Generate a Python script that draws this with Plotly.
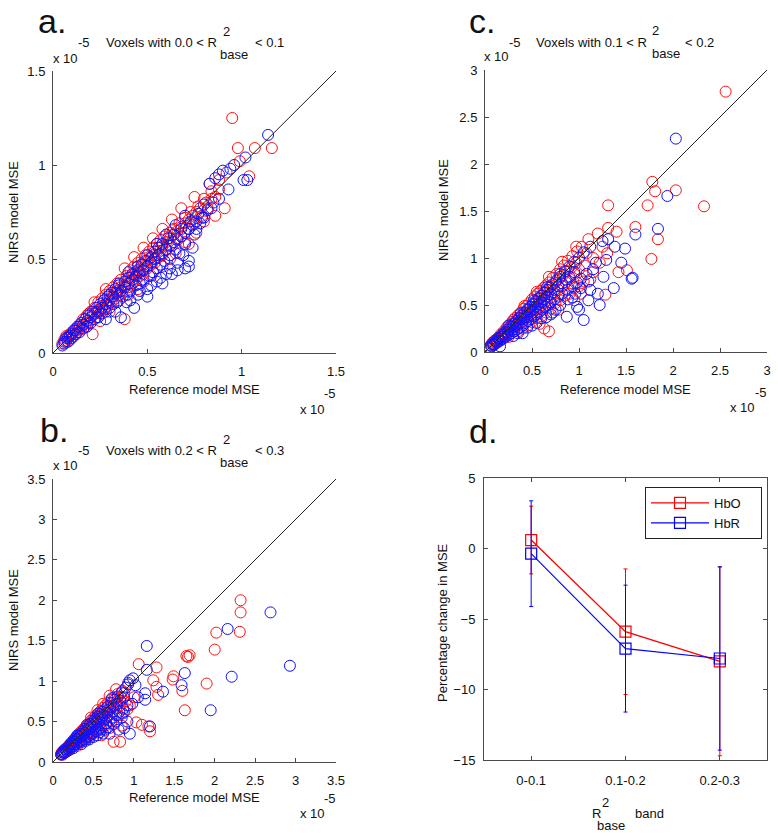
import plotly.graph_objects as go

W, H = 778, 837

# ---------------- data (units of 1e-5), (reference MSE, NIRS MSE) ----------------
# Panel a: 0.0 < R2 < 0.1
a_red = [(0.05,0.05),(0.06,0.07),(0.07,0.06),(0.08,0.09),(0.09,0.07),(0.10,0.11),(0.11,0.09),(0.12,0.13),(0.13,0.11),(0.14,0.15),
         (0.15,0.13),(0.16,0.18),(0.17,0.14),(0.18,0.20),(0.19,0.16),(0.20,0.22),(0.21,0.10),(0.22,0.24),(0.23,0.19),(0.24,0.27),
         (0.25,0.21),(0.26,0.29),(0.27,0.23),(0.28,0.31),(0.29,0.25),(0.30,0.33),(0.31,0.27),(0.32,0.35),(0.33,0.29),(0.34,0.37),
         (0.35,0.31),(0.36,0.39),(0.37,0.33),(0.38,0.18),(0.39,0.41),(0.40,0.35),(0.41,0.44),(0.42,0.37),(0.43,0.46),(0.44,0.39),
         (0.45,0.48),(0.46,0.41),(0.47,0.50),(0.48,0.42),(0.49,0.52),(0.50,0.45),(0.51,0.54),(0.52,0.47),(0.53,0.56),(0.54,0.48),
         (0.55,0.58),(0.56,0.51),(0.57,0.60),(0.58,0.52),(0.59,0.62),(0.60,0.55),(0.62,0.64),(0.63,0.57),(0.64,0.66),(0.66,0.60),
         (0.67,0.69),(0.68,0.62),(0.70,0.72),(0.72,0.66),(0.73,0.75),(0.75,0.69),(0.77,0.78),(0.79,0.73),(0.80,0.82),(0.82,0.77),
         (0.84,0.86),(0.86,0.83),(0.88,0.92),(0.88,0.87),(0.86,0.73),(0.91,0.77),(0.95,1.25),(0.98,1.09),(1.07,1.09),(1.16,1.09),
         (0.99,1.02),(1.04,0.94),(0.30,0.22),(0.45,0.34),(0.62,0.50),(0.70,0.59),(0.25,0.17),(0.76,0.64),(0.92,0.96),(0.83,0.90),
         (0.07,0.09),(0.09,0.10),(0.12,0.10),(0.14,0.13),(0.16,0.15),(0.18,0.16),(0.19,0.21),(0.21,0.20),(0.23,0.22),(0.24,0.23),
         (0.26,0.25),(0.28,0.26),(0.29,0.28),(0.31,0.30),(0.33,0.32),(0.34,0.33),(0.36,0.35),(0.38,0.36),(0.39,0.38),(0.41,0.40),
         (0.43,0.42),(0.44,0.43),(0.46,0.45),(0.48,0.47),(0.50,0.49),(0.51,0.50),(0.53,0.52),(0.55,0.54),(0.57,0.56),(0.58,0.57),
         (0.60,0.59),(0.62,0.61),(0.64,0.63),(0.66,0.65),(0.68,0.67),(0.70,0.69),(0.72,0.71),(0.74,0.73),(0.76,0.75),(0.78,0.77),
         (0.81,0.80),(0.84,0.82),(0.35,0.28),(0.40,0.31),(0.48,0.38),(0.52,0.41),(0.58,0.46),(0.65,0.53),(0.72,0.58),(0.80,0.70),
         (0.28,0.34),(0.38,0.45),(0.48,0.56),(0.58,0.66),(0.68,0.77),(0.22,0.27),(0.43,0.51),(0.53,0.61),(0.63,0.71),(0.75,0.83)]
a_blue = [(0.05,0.04),(0.06,0.06),(0.07,0.08),(0.08,0.06),(0.09,0.09),(0.10,0.08),(0.11,0.12),(0.12,0.10),(0.13,0.14),(0.14,0.11),
          (0.15,0.16),(0.16,0.13),(0.17,0.18),(0.18,0.14),(0.19,0.20),(0.20,0.16),(0.21,0.22),(0.22,0.18),(0.23,0.24),(0.24,0.19),
          (0.25,0.26),(0.26,0.21),(0.27,0.28),(0.28,0.22),(0.29,0.30),(0.30,0.24),(0.31,0.32),(0.32,0.26),(0.33,0.34),(0.34,0.27),
          (0.35,0.36),(0.36,0.19),(0.37,0.30),(0.38,0.38),(0.39,0.31),(0.40,0.40),(0.41,0.33),(0.42,0.42),(0.43,0.24),(0.44,0.36),
          (0.45,0.44),(0.46,0.37),(0.47,0.47),(0.48,0.39),(0.49,0.49),(0.50,0.30),(0.51,0.41),(0.52,0.51),(0.53,0.43),(0.54,0.54),
          (0.55,0.45),(0.56,0.56),(0.57,0.47),(0.58,0.58),(0.59,0.49),(0.60,0.42),(0.61,0.61),(0.62,0.52),(0.64,0.63),(0.65,0.55),
          (0.66,0.48),(0.68,0.66),(0.70,0.58),(0.72,0.46),(0.72,0.49),(0.73,0.70),(0.75,0.63),(0.77,0.74),(0.80,0.79),(0.83,0.90),
          (0.86,0.93),(0.88,0.95),(0.90,0.97),(0.94,0.98),(0.96,1.00),(1.02,1.04),(1.14,1.16),(1.01,0.92),(1.03,0.92),(0.93,0.87),
          (0.78,0.69),(0.67,0.53),(0.55,0.38),(0.46,0.33),(0.28,0.18),(0.62,0.45),(0.85,0.80),
          (0.06,0.05),(0.08,0.08),(0.10,0.10),(0.12,0.12),(0.14,0.14),(0.16,0.15),(0.18,0.17),(0.20,0.19),(0.22,0.21),(0.24,0.22),
          (0.26,0.24),(0.28,0.26),(0.30,0.28),(0.32,0.30),(0.34,0.32),(0.36,0.33),(0.38,0.35),(0.40,0.37),(0.42,0.39),(0.44,0.41),
          (0.46,0.43),(0.48,0.44),(0.50,0.46),(0.52,0.48),(0.54,0.50),(0.56,0.52),(0.58,0.53),(0.60,0.55),(0.62,0.57),(0.64,0.59),
          (0.66,0.61),(0.68,0.62),(0.70,0.64),(0.72,0.66),(0.74,0.68),(0.76,0.70),(0.79,0.72),(0.82,0.76),(0.33,0.22),(0.39,0.27),
          (0.45,0.31),(0.52,0.36),(0.57,0.40),(0.63,0.42),(0.69,0.52),(0.74,0.56),(0.70,0.45),(0.66,0.44),(0.58,0.37),(0.50,0.34),
          (0.41,0.28),(0.30,0.31),(0.40,0.43),(0.50,0.52),(0.60,0.63),(0.70,0.73),(0.35,0.37),(0.45,0.46),(0.55,0.58),(0.65,0.68),
          (0.76,0.66),(0.80,0.72),(0.88,0.82),(0.84,0.77)]

# Panel c: 0.1 < R2 < 0.2
c_red = [(0.05,0.05),(0.07,0.08),(0.09,0.07),(0.10,0.12),(0.12,0.10),(0.14,0.15),(0.15,0.12),(0.17,0.19),(0.18,0.14),(0.20,0.22),
         (0.21,0.17),(0.23,0.26),(0.24,0.19),(0.26,0.29),(0.27,0.22),(0.29,0.32),(0.30,0.24),(0.32,0.36),(0.33,0.27),(0.35,0.39),
         (0.36,0.30),(0.38,0.42),(0.39,0.32),(0.41,0.46),(0.42,0.35),(0.44,0.49),(0.45,0.37),(0.47,0.52),(0.48,0.40),(0.50,0.56),
         (0.51,0.42),(0.53,0.59),(0.54,0.45),(0.56,0.62),(0.57,0.47),(0.59,0.65),(0.60,0.50),(0.62,0.68),(0.63,0.52),(0.65,0.71),
         (0.66,0.55),(0.68,0.74),(0.68,0.22),(0.70,0.58),(0.72,0.79),(0.74,0.62),(0.76,0.83),(0.78,0.66),(0.80,0.88),(0.82,0.70),
         (0.84,0.92),(0.86,0.74),(0.88,0.97),(0.90,0.78),(0.93,1.02),(0.95,0.83),(0.98,1.07),(1.00,0.88),(1.03,1.12),(1.06,0.92),
         (1.12,0.77),(1.10,1.20),(1.20,1.26),(1.25,1.12),(1.28,0.61),(1.31,1.32),(1.31,1.56),(1.40,1.28),(1.42,0.85),(1.51,0.87),
         (1.60,1.33),(1.73,1.56),(1.77,0.99),(1.78,1.81),(1.81,1.71),(1.84,1.20),(2.03,1.72),(2.33,1.55),(2.56,2.77),(0.35,0.22),
         (0.45,0.28),(0.55,0.36),(0.75,0.52),(0.85,0.60),(0.95,0.68),(0.65,0.42),(0.25,0.16),(1.15,1.00),(1.00,0.70),
         (0.08,0.10),(0.11,0.10),(0.13,0.13),(0.16,0.16),(0.19,0.18),(0.22,0.21),(0.25,0.24),(0.28,0.27),(0.31,0.30),(0.34,0.33),
         (0.37,0.36),(0.40,0.39),(0.43,0.42),(0.46,0.45),(0.49,0.48),(0.52,0.51),(0.55,0.54),(0.58,0.57),(0.61,0.60),(0.64,0.63),
         (0.67,0.66),(0.71,0.70),(0.75,0.74),(0.79,0.78),(0.83,0.82),(0.87,0.86),(0.92,0.90),(0.97,0.95),(0.40,0.25),(0.50,0.32),
         (0.60,0.38),(0.70,0.46),(0.80,0.55),(0.90,0.62),(1.05,0.75),(0.58,0.30),(0.78,0.45),(0.95,0.55),(1.15,0.85),(1.22,0.95),
         (0.30,0.34),(0.42,0.49),(0.55,0.64),(0.68,0.80),(0.82,0.96),(0.97,1.12),(1.08,1.05),(0.63,0.25),(1.02,0.62),(1.30,1.05)]
c_blue = [(0.05,0.04),(0.07,0.06),(0.08,0.09),(0.10,0.08),(0.11,0.12),(0.13,0.10),(0.14,0.15),(0.16,0.12),(0.16,0.06),(0.18,0.18),
          (0.19,0.14),(0.21,0.21),(0.22,0.16),(0.24,0.24),(0.25,0.18),(0.27,0.27),(0.28,0.20),(0.30,0.30),(0.31,0.22),(0.33,0.33),
          (0.34,0.24),(0.36,0.36),(0.37,0.26),(0.39,0.39),(0.40,0.28),(0.42,0.42),(0.43,0.31),(0.45,0.45),(0.46,0.33),(0.48,0.48),
          (0.49,0.35),(0.51,0.51),(0.52,0.38),(0.54,0.54),(0.55,0.40),(0.57,0.57),(0.58,0.43),(0.60,0.60),(0.61,0.45),(0.63,0.63),
          (0.64,0.48),(0.66,0.66),(0.67,0.50),(0.69,0.69),(0.70,0.53),(0.72,0.72),(0.74,0.56),(0.76,0.76),(0.78,0.59),(0.80,0.80),
          (0.82,0.62),(0.85,0.86),(0.87,0.375),(0.88,0.66),(0.90,0.91),(0.93,0.70),(0.95,0.96),(0.98,0.48),(0.98,0.74),(1.00,1.00),
          (1.02,0.78),(1.05,0.34),(1.05,1.06),(1.08,0.83),(1.12,0.66),(1.12,1.12),(1.18,0.95),(1.22,0.50),(1.25,1.18),(1.29,0.98),
          (1.31,1.20),(1.37,0.68),(1.38,1.12),(1.49,1.10),(1.56,0.78),(1.57,0.79),(1.60,1.25),(1.84,1.31),(1.94,1.66),(2.03,2.27),
          (0.40,0.20),(0.60,0.36),(0.75,0.45),(0.50,0.28),(0.70,0.40),(0.30,0.17),
          (0.06,0.07),(0.09,0.08),(0.12,0.11),(0.15,0.14),(0.18,0.16),(0.21,0.19),(0.24,0.21),(0.27,0.24),(0.30,0.27),(0.33,0.29),
          (0.36,0.32),(0.39,0.35),(0.42,0.37),(0.45,0.40),(0.48,0.43),(0.51,0.45),(0.54,0.48),(0.57,0.51),(0.60,0.53),(0.63,0.56),
          (0.66,0.59),(0.70,0.62),(0.74,0.66),(0.78,0.70),(0.82,0.73),(0.86,0.77),(0.90,0.80),(0.95,0.85),(0.35,0.20),(0.45,0.26),
          (0.55,0.31),(0.65,0.37),(0.72,0.42),(0.80,0.50),(0.88,0.56),(0.96,0.62),(1.02,0.68),(1.10,0.75),(1.15,0.88),(0.25,0.28),
          (0.38,0.41),(0.52,0.55),(0.66,0.69),(0.80,0.83),(0.93,0.58),(1.00,0.45),(1.10,0.55),(1.20,0.62),(1.26,0.80),(1.45,0.95)]

# Panel b: 0.2 < R2 < 0.3
b_red = [(0.10,0.10),(0.12,0.09),(0.13,0.14),(0.15,0.12),(0.17,0.17),(0.18,0.14),(0.20,0.21),(0.21,0.17),(0.23,0.24),(0.24,0.19),
         (0.26,0.28),(0.27,0.22),(0.29,0.31),(0.30,0.25),(0.32,0.34),(0.33,0.27),(0.35,0.38),(0.36,0.30),(0.38,0.41),(0.39,0.32),
         (0.41,0.44),(0.42,0.35),(0.44,0.47),(0.45,0.37),(0.47,0.51),(0.48,0.40),(0.50,0.54),(0.51,0.42),(0.53,0.57),(0.54,0.44),
         (0.56,0.60),(0.57,0.46),(0.59,0.63),(0.60,0.49),(0.62,0.67),(0.63,0.52),(0.65,0.70),(0.66,0.54),(0.68,0.73),(0.70,0.42),
         (0.70,0.58),(0.72,0.77),(0.74,0.62),(0.75,0.25),(0.76,0.80),(0.78,0.66),(0.80,0.84),(0.83,0.25),(0.83,0.70),(0.86,0.88),
         (0.90,0.75),(0.93,0.98),(1.03,0.49),(1.06,1.21),(1.10,0.46),(1.18,0.44),(1.20,0.38),(1.24,1.01),(1.28,1.17),(1.28,0.93),
         (1.30,0.83),(1.48,1.02),(1.49,1.06),(1.60,0.88),(1.63,0.64),(1.65,1.31),(1.67,1.30),(1.69,1.32),(1.90,0.97),(2.00,1.39),
         (2.02,1.60),(2.31,1.61),(2.32,1.85),(2.32,2.00),(0.30,0.20),(0.40,0.28),(0.50,0.36),(0.60,0.40),(0.20,0.15),(0.45,0.31),
         (0.11,0.12),(0.14,0.13),(0.16,0.16),(0.19,0.18),(0.22,0.21),(0.25,0.24),(0.28,0.27),(0.31,0.29),(0.34,0.32),(0.37,0.35),
         (0.40,0.38),(0.43,0.41),(0.46,0.44),(0.49,0.47),(0.52,0.50),(0.55,0.53),(0.58,0.56),(0.61,0.58),(0.64,0.61),(0.67,0.64),
         (0.71,0.68),(0.75,0.71),(0.79,0.75),(0.84,0.80),(0.88,0.85),(0.35,0.24),(0.45,0.30),(0.55,0.38),(0.65,0.45),(0.72,0.50),
         (0.80,0.58),(0.88,0.62),(0.95,0.70),(0.60,0.33),(0.85,0.45),(0.78,0.90),(0.70,0.82),(0.62,0.72),(0.55,0.64),(0.47,0.55),
         (0.92,0.65),(1.00,0.80)]
b_blue = [(0.10,0.09),(0.12,0.12),(0.14,0.11),(0.15,0.16),(0.17,0.13),(0.19,0.19),(0.20,0.15),(0.22,0.23),(0.23,0.18),(0.25,0.26),
          (0.26,0.20),(0.28,0.29),(0.29,0.22),(0.31,0.32),(0.32,0.24),(0.34,0.35),(0.35,0.26),(0.37,0.38),(0.38,0.28),(0.40,0.41),
          (0.41,0.30),(0.43,0.44),(0.44,0.32),(0.46,0.47),(0.47,0.34),(0.49,0.50),(0.50,0.36),(0.52,0.53),(0.53,0.38),(0.55,0.56),
          (0.56,0.40),(0.58,0.59),(0.59,0.42),(0.61,0.62),(0.62,0.35),(0.62,0.45),(0.64,0.65),(0.66,0.48),(0.68,0.69),(0.70,0.51),
          (0.72,0.73),(0.74,0.55),(0.76,0.77),(0.78,0.58),(0.80,0.81),(0.81,0.40),(0.82,0.62),(0.85,0.86),(0.87,0.66),(0.90,0.92),
          (0.92,0.70),(0.95,0.35),(0.95,1.01),(0.99,1.035),(1.14,0.85),(1.14,0.77),(1.16,1.435),(1.16,1.14),(1.20,0.44),(1.36,0.87),
          (1.59,0.95),(1.63,1.10),(1.95,0.64),(2.16,1.645),(2.21,1.055),(2.69,1.85),(2.93,1.19),(0.35,0.22),(0.45,0.28),(0.55,0.33),
          (0.65,0.40),(0.75,0.47),(0.85,0.55),(0.25,0.17),
          (0.11,0.10),(0.13,0.13),(0.16,0.14),(0.18,0.17),(0.21,0.20),(0.24,0.22),(0.27,0.25),(0.30,0.28),(0.33,0.31),(0.36,0.33),
          (0.39,0.36),(0.42,0.39),(0.45,0.42),(0.48,0.44),(0.51,0.47),(0.54,0.50),(0.57,0.53),(0.60,0.55),(0.63,0.58),(0.67,0.61),
          (0.71,0.65),(0.75,0.69),(0.79,0.72),(0.83,0.76),(0.88,0.80),(0.40,0.26),(0.50,0.31),(0.58,0.37),(0.68,0.43),(0.78,0.50),
          (0.86,0.60),(0.92,0.50),(0.98,0.72),(1.05,0.80),(0.70,0.35),(0.88,0.42),(0.30,0.33),(0.42,0.46),(0.56,0.60),(0.73,0.79),
          (0.93,0.96),(1.02,0.95)]

# Panel d: percentage change in MSE per R2 band
bands = ["0-0.1", "0.1-0.2", "0.2-0.3"]
hbo_mean = [0.6, -5.9, -8.0]
hbo_err = [2.4, 4.45, 6.7]
hbr_mean = [-0.37, -7.1, -7.8]
hbr_err = [3.75, 4.5, 6.5]

# ---------------- layout helpers ----------------
def px(x):
    return x / W

def py(y):
    return 1 - y / H

FONT = "Liberation Sans, Arial, Helvetica, sans-serif"
AX = "#4a4a4a"
RED = "#ff1010"
BLUE = "#1010ff"

fig = go.Figure()

panels = [
    ("x", "y", 1.5, (53, 336), (71, 353), a_red, a_blue),
    ("x2", "y2", 3.0, (485, 767), (70, 352), c_red, c_blue),
    ("x3", "y3", 3.5, (53, 336), (479, 762), b_red, b_blue),
]

layout_axes = {}
for xa, ya, rmax, (x0, x1), (y0, y1), red, blue in panels:
    for pts, col in ((red, RED), (blue, BLUE)):
        fig.add_trace(go.Scatter(x=[p[0] for p in pts], y=[p[1] for p in pts], xaxis=xa, yaxis=ya,
                                 mode="markers", showlegend=False,
                                 marker=dict(symbol="circle-open", size=11, color=col,
                                             line=dict(width=1, color=col))))
    fig.add_trace(go.Scatter(x=[0, rmax], y=[0, rmax], xaxis=xa, yaxis=ya, mode="lines", showlegend=False,
                             line=dict(color="#222", width=1)))
    kx = "xaxis" if xa == "x" else "xaxis" + xa[1:]
    ky = "yaxis" if ya == "y" else "yaxis" + ya[1:]
    common = dict(showline=True, linecolor=AX, linewidth=1, ticks="inside", ticklen=4,
                  tickcolor=AX, showgrid=False, zeroline=False, dtick=0.5, tick0=0, automargin=False,
                  tickfont=dict(size=13, color="#111", family=FONT))
    layout_axes[kx] = dict(common, range=[0, rmax], domain=[px(x0), px(x1)], anchor=ya,
                           ticklabelstandoff=6)
    layout_axes[ky] = dict(common, range=[0, rmax], domain=[py(y1), py(y0)], anchor=xa,
                           ticklabelstandoff=4)

# panel d
fig.add_trace(go.Scatter(x=[0, 1, 2], y=hbo_mean, xaxis="x4", yaxis="y4", mode="lines+markers",
                         name="HbO\u00a0\u00a0\u00a0\u00a0",
                         line=dict(color="#ff0000", width=1.3),
                         marker=dict(symbol="square-open", size=11, color="#ff0000", line=dict(width=1.2)),
                         error_y=dict(type="data", array=hbo_err, visible=True, color="#ff0000",
                                      thickness=1, width=2)))
fig.add_trace(go.Scatter(x=[0, 1, 2], y=hbr_mean, xaxis="x4", yaxis="y4", mode="lines+markers",
                         name="HbR\u00a0\u00a0\u00a0\u00a0",
                         line=dict(color="#0000ff", width=1.1),
                         marker=dict(symbol="square-open", size=11, color="#0000ff", line=dict(width=1.2)),
                         error_y=dict(type="data", array=hbr_err, visible=True, color="#0000ff",
                                      thickness=1, width=2)))
layout_axes["xaxis4"] = dict(domain=[px(484), px(767)], anchor="y4", range=[-0.5, 2.5],
                             tickvals=[0, 1, 2], ticktext=bands, showline=True, mirror="ticks",
                             linecolor=AX, linewidth=1, ticks="inside", ticklen=4, tickcolor=AX,
                             showgrid=False, zeroline=False, ticklabelstandoff=8, automargin=False,
                             tickfont=dict(size=13, color="#111", family=FONT))
layout_axes["yaxis4"] = dict(domain=[py(760), py(478)], anchor="x4", range=[-15, 5], dtick=5,
                             showline=True, mirror="ticks", linecolor=AX, linewidth=1, ticks="inside",
                             ticklen=4, tickcolor=AX, showgrid=False, zeroline=False, ticklabelstandoff=5,
                             automargin=False, tickfont=dict(size=13, color="#111", family=FONT))

# ---------------- text ----------------
ann = []

def T(text, x, y, size=13, xanchor="center", angle=0, family=FONT, yanchor="middle"):
    ann.append(dict(text=text, x=px(x), y=py(y), xref="paper", yref="paper", showarrow=False,
                    xanchor=xanchor, yanchor=yanchor, textangle=angle,
                    font=dict(size=size, color="#111", family=family)))

T("a.", 52, 0, 34, yanchor="top")
T("c.", 482, 0, 34, yanchor="top")
T("b.", 54, 430, 34)
T("d.", 483, 431, 34)

# titles with stacked super/subscripts
for (ly, lo, hi, x_r, x_2, x_b, x_l, xx, xm) in [
    (43, "0.0", "0.1", 219, 226, 234, 253, 65, 84),
    (42, "0.1", "0.2", 649, 655, 666, 683, 496, 515),
    (450, "0.2", "0.3", 219, 226, 234, 253, 65, 84),
]:
    T("Voxels with %s < R" % lo, x_r, ly, xanchor="right")
    T("2", x_2, ly - 11)
    T("base", x_b, ly + 12)
    T("< %s" % hi, x_l, ly, xanchor="left")
    T("x 10", xx, ly + 15)
    T("-5", xm, ly)

# axis titles
T("Reference model MSE", 195, 390)
T("Reference model MSE", 625, 390)
T("Reference model MSE", 195, 797)
T("NIRS model MSE", 13, 212, angle=-90)
T("NIRS model MSE", 444, 210, angle=-90)
T("NIRS model MSE", 13, 620, angle=-90)
# bottom exponents
T("x 10", 312, 409)
T("-5", 330, 394)
T("x 10", 742, 408)
T("-5", 761, 392)
T("x 10", 312, 813)
T("-5", 330, 798)

# panel d axis titles
T("Percentage change in MSE", 442, 622, angle=-90)
T("R", 596, 813)
T("2", 605, 802)
T("base", 611, 825)
T("band", 633, 813, xanchor="left")

fig.update_layout(
    width=W, height=H, margin=dict(l=0, r=0, t=0, b=0, pad=0, autoexpand=False),
    paper_bgcolor="white", plot_bgcolor="white",
    font=dict(family=FONT, size=13, color="#111"),
    annotations=ann,
    legend=dict(x=px(645), y=py(487), xanchor="left", yanchor="top", bgcolor="white",
                bordercolor="#222", borderwidth=1, font=dict(size=13, family=FONT, color="#111"),
                itemwidth=58, tracegroupgap=0),
)
fig.update_layout(**layout_axes)

fig.write_html("out.html", config={"displayModeBar": False},
               post_script="document.body.style.margin='0';document.body.style.overflow='hidden';")
